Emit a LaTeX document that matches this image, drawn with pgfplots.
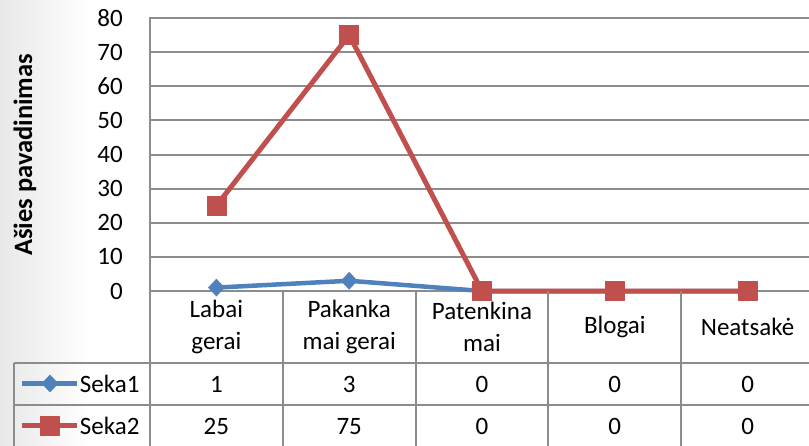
\documentclass[border=0pt]{standalone}
\usepackage{pgfplots}
\pgfplotsset{compat=1.18}
\usepackage{fontspec}
\setmainfont{Carlito}
\definecolor{s1}{HTML}{4F81BD}
\definecolor{s2}{HTML}{C0504D}
\definecolor{gridc}{HTML}{8C8C8C}
\begin{document}
\begin{tikzpicture}[x=1pt,y=1pt]
\fill[left color=black!9, right color=white] (0,0) rectangle (90,-446);
\begin{axis}[
  at={(150pt,-291pt)}, anchor=south west, scale only axis,
  width=664pt, height=273pt,
  xmin=-0.5, xmax=4.5, ymin=0, ymax=80,
  ytick={0,10,...,80}, xtick=\empty,
  ymajorgrids, grid style={gridc, line width=2pt},
  axis line style={gridc, line width=2pt},
  major tick length=0pt,
  tick label style={font=\fontsize{25}{30}\selectfont},
  /pgf/number format/assume math mode=true,
  yticklabel style={inner sep=0pt, xshift=-27pt},
  clip=false,
  legend cell align=left,
  legend style={at={(rel axis cs:-0.1958,-0.2637)}, anchor=north west,
    draw=none, fill=none, inner sep=0pt, outer sep=0pt, row sep=0pt, column sep=0pt,
    font=\fontsize{25}{30}\selectfont,
    nodes={inner sep=0pt, text height=29.7pt, text depth=12.3pt}},
  legend image code/.code={\draw[#1, mark repeat=2, mark phase=2] plot coordinates {(0pt,0.5pt) (27.5pt,0.5pt) (55pt,0.5pt)};},
]
\addplot[s1, line width=4.5pt, line join=round, mark=diamond*, mark size=8.5pt,
  mark options={solid, fill=s1, draw=s1, line width=0.5pt, xscale=1.25}]
  coordinates {(0,1) (1,3) (2,0) (3,0) (4,0)};
\addlegendentry{Seka1}
\addplot[s2, line width=5pt, line join=round, mark=square*, mark size=9.5pt,
  mark options={solid, fill=s2, draw=s2, line width=0.5pt}]
  coordinates {(0,25) (1,75) (2,0) (3,0) (4,0)};
\addlegendentry{Seka2}
\end{axis}
% data table grid
\draw[gridc, line width=2pt] (150,-291) -- (150,-460);
\foreach \x in {282.8,415.6,548.4,681.2} {\draw[gridc, line width=2pt] (\x,-291) -- (\x,-460);}
\draw[gridc, line width=2pt] (14,-363.5) -- (830,-363.5);
\draw[gridc, line width=2pt] (14,-405) -- (830,-405);
\draw[gridc, line width=2pt] (14,-447) -- (830,-447);
\draw[gridc, line width=2pt] (14,-363.5) -- (14,-460);
% header
\begin{scope}[every node/.style={font=\fontsize{25}{32}\selectfont, align=center, inner sep=0pt}]
\node at (216.4,-327) {Labai\\gerai};
\node at (349.2,-327) {Pakanka\\mai gerai};
\node at (482.0,-327) {Patenkina\\mai};
\node at (614.8,-327) {Blogai};
\node at (747.6,-327) {Neatsakė};
\end{scope}
\begin{scope}[every node/.style={font=\fontsize{25}{30}\selectfont, anchor=base, inner sep=0pt}]
\node at (216.4,-392.7) {1};
\node at (349.2,-392.7) {3};
\node at (482.0,-392.7) {0};
\node at (614.8,-392.7) {0};
\node at (747.6,-392.7) {0};
\node at (216.4,-434.7) {25};
\node at (349.2,-434.7) {75};
\node at (482.0,-434.7) {0};
\node at (614.8,-434.7) {0};
\node at (747.6,-434.7) {0};
\end{scope}
\node[rotate=90, anchor=base, inner sep=0pt, font=\fontsize{26.5}{30}\selectfont\bfseries] at (32,-155) {Ašies pavadinimas};
\pgfresetboundingbox
\useasboundingbox (0,0) rectangle (809,-446);
\end{tikzpicture}
\end{document}
